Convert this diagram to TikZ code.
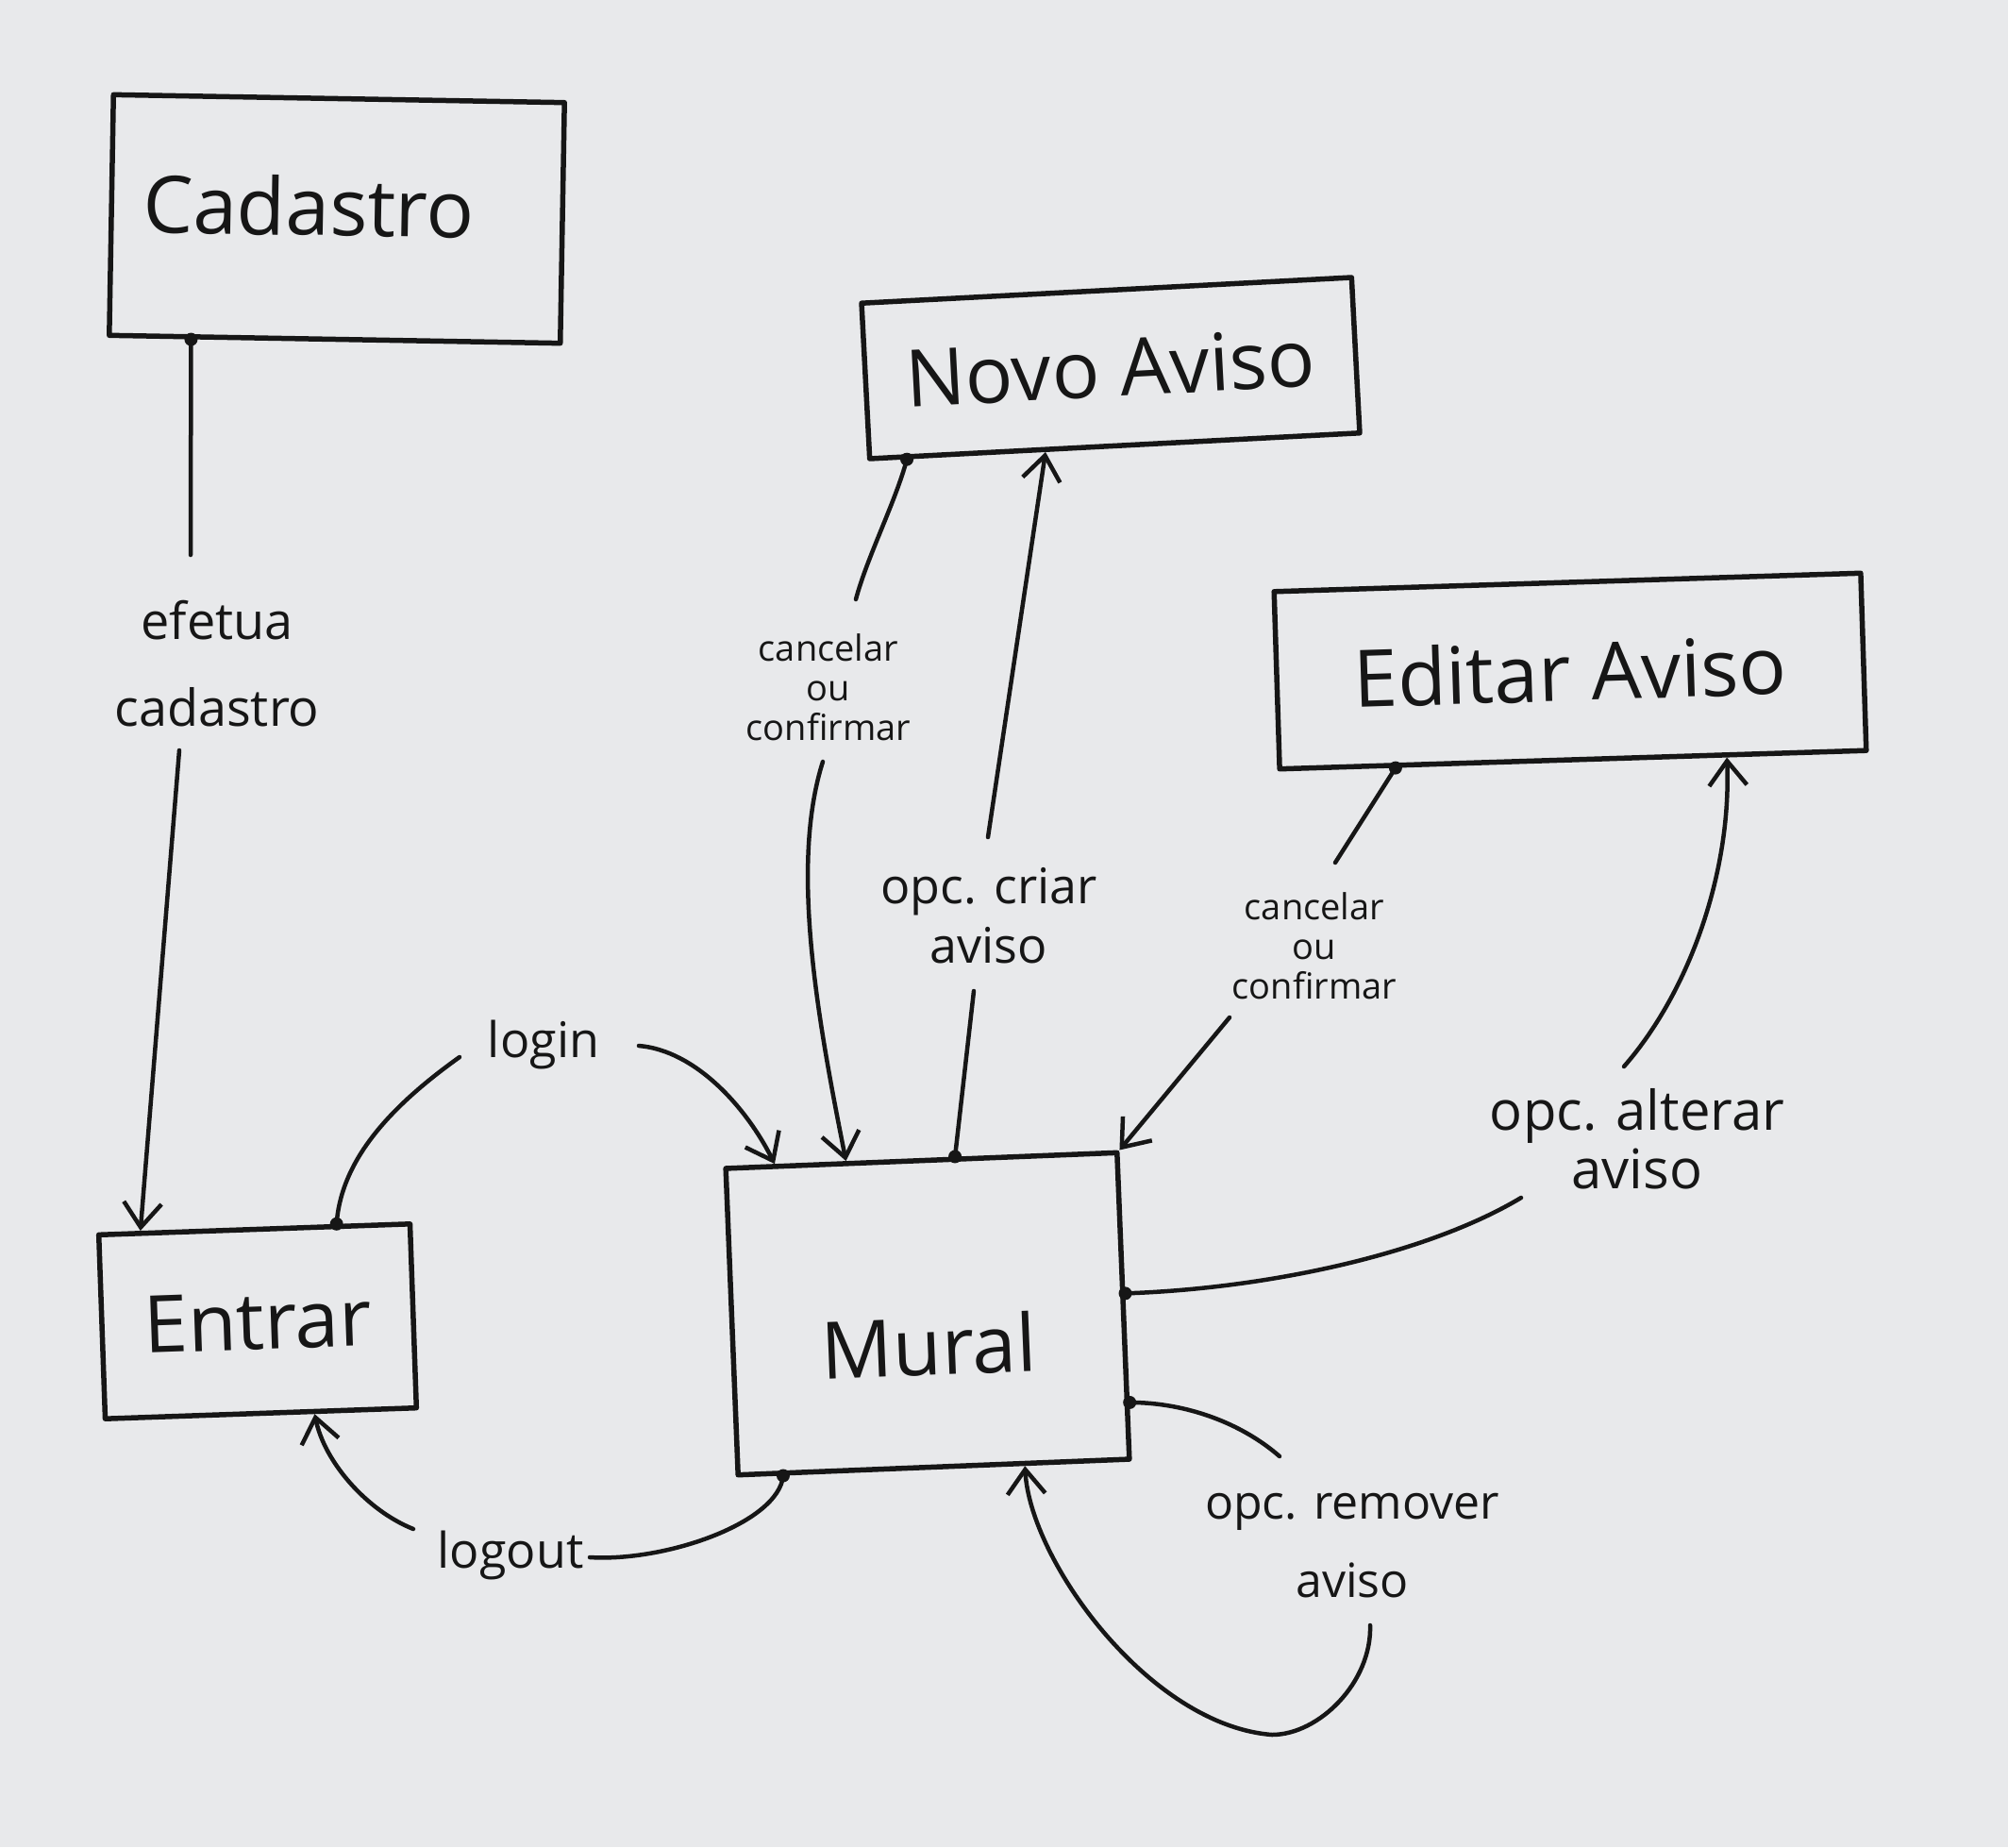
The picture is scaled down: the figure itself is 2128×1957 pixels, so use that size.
\documentclass[tikz,border=0pt]{standalone}
\usepackage{fontspec}
\setmainfont{Open Sans}
\usetikzlibrary{arrows.meta,calc}
\definecolor{paper}{HTML}{E8E9EB}
\definecolor{ink}{HTML}{161616}
\begin{document}
\begin{tikzpicture}[x=1pt,y=-1pt,
  box/.style={draw=ink, line width=5.5pt, line join=round, rectangle, inner sep=0pt,
              font=\fontsize{84}{90}\selectfont, text=ink},
  lbl/.style={text=ink, align=center, inner sep=4pt, font=\fontsize{52}{62}\selectfont},
  conn/.style={draw=ink, line width=4.5pt, line cap=round},
  arr/.style={conn, -{Straight Barb[length=26pt,width=40pt]}},
  dot/.style={fill=ink}
]
\fill[paper] (0,0) rectangle (2128,1957);
\useasboundingbox (0,0) rectangle (2128,1957);

% boxes
\node[box, minimum width=478pt, minimum height=255pt, rotate=-1, text depth=28pt]  (cad)    at (357,232)  {Cadastro\hspace*{60pt}};
\node[box, minimum width=520pt, minimum height=165pt, rotate=3]   (novo)   at (1177,390) {Novo Aviso};
\node[box, minimum width=622pt, minimum height=188pt, rotate=1.8] (edit)   at (1664,711) {Editar Aviso};
\node[box, minimum width=330pt, minimum height=195pt, rotate=2]   (entrar) at (273,1400) {Entrar};
\node[box, minimum width=415pt, minimum height=325pt, rotate=2.3, text height=130pt, text depth=0pt] (mural)  at (983,1392) {Mural};

% labels
\node[lbl, font=\fontsize{54}{92}\selectfont] (efetua) at (230,703) {efetua\\cadastro};
\node[lbl, font=\fontsize{38}{42}\selectfont] (canc1) at (878,728) {cancelar\\ou\\confirmar};
\node[lbl, font=\fontsize{52}{63}\selectfont] (criar) at (1048,970) {opc. criar\\aviso};
\node[lbl, font=\fontsize{38}{42}\selectfont] (canc2) at (1393,1002) {cancelar\\ou\\confirmar};
\node[lbl, font=\fontsize{58}{62}\selectfont] (alterar) at (1735,1207) {opc. alterar\\aviso};
\node[lbl] (login) at (576,1107) {login};
\node[lbl] (logout) at (541,1648) {logout};
\node[lbl, font=\fontsize{50}{83}\selectfont] (remover) at (1433,1638) {opc. remover\\aviso};

% points on the boxes
\coordinate (cadB)   at ($(cad.south west)!0.185!(cad.south east)$);
\coordinate (novoB1) at ($(novo.south west)!0.08!(novo.south east)$);
\coordinate (novoB2) at ($(novo.south west)!0.36!(novo.south east)$);
\coordinate (editB1) at ($(edit.south west)!0.2!(edit.south east)$);
\coordinate (editB2) at ($(edit.south west)!0.76!(edit.south east)$);
\coordinate (entT1)  at ($(entrar.north west)!0.14!(entrar.north east)$);
\coordinate (entT2)  at ($(entrar.north west)!0.76!(entrar.north east)$);
\coordinate (entB)   at ($(entrar.south west)!0.67!(entrar.south east)$);
\coordinate (murT1)  at ($(mural.north west)!0.13!(mural.north east)$);
\coordinate (murT2)  at ($(mural.north west)!0.31!(mural.north east)$);
\coordinate (murT3)  at ($(mural.north west)!0.585!(mural.north east)$);
\coordinate (murR1)  at ($(mural.north east)!0.46!(mural.south east)$);
\coordinate (murR2)  at ($(mural.north east)!0.81!(mural.south east)$);
\coordinate (murB1)  at ($(mural.south west)!0.12!(mural.south east)$);
\coordinate (murB2)  at ($(mural.south west)!0.73!(mural.south east)$);

% Cadastro -> Entrar
\draw[conn] (cadB) -- ($(efetua.center)+(-28,-115)$);
\draw[arr] ($(efetua.center)+(-40,92)$) -- (entT1);

% Novo Aviso -> Mural (cancelar ou confirmar)
\draw[conn] (novoB1) .. controls +(-12,45) and +(12,-45) .. ($(canc1.center)+(29,-93)$);
\draw[arr] ($(canc1.center)+(-6,79)$) .. controls +(-35,110) and +(-30,-150) .. (murT2);

% Mural -> Novo Aviso (opc. criar aviso)
\draw[conn] (murT3) -- ($(criar.center)+(-16,80)$);
\draw[arr] ($(criar.center)+(-1,-83)$) -- (novoB2);

% Editar Aviso -> Mural (cancelar ou confirmar)
\draw[conn] (editB1) -- ($(canc2.center)+(22,-88)$);
\draw[arr] ($(canc2.center)+(-90,76)$) -- (mural.north east);

% Mural -> Editar Aviso (opc. alterar aviso)
\draw[conn] (murR1) .. controls +(150,-5) and +(-100,60) .. ($(alterar.center)+(-123,62)$);
\draw[arr] ($(alterar.center)+(-14,-77)$) .. controls +(70,-80) and +(5,120) .. (editB2);

% Entrar -> Mural (login)
\draw[conn] (entT2) .. controls +(5,-70) and +(-70,50) .. ($(login.center)+(-89,13)$);
\draw[arr] ($(login.center)+(101,1)$) .. controls +(60,5) and +(-30,-60) .. (murT1);

% Mural -> Entrar (logout)
\draw[conn] (murB1) .. controls +(-5,50) and +(80,5) .. ($(logout.center)+(84,2)$);
\draw[arr] ($(logout.center)+(-103,-28)$) .. controls +(-50,-20) and +(10,50) .. (entB);

% Mural -> Mural (opc. remover aviso)
\draw[conn] (murR2) .. controls +(60,0) and +(-40,-35) .. ($(remover.center)+(-77,-95)$);
\draw[arr] ($(remover.center)+(19,84)$) .. controls +(2,60) and +(50,0) .. (1348,1838)
           .. controls +(-130,-10) and +(5,100) .. (murB2);

% connector dots
\foreach \p in {cadB,novoB1,editB1,entT2,murT3,murR1,murR2,murB1}
  \fill[dot] (\p) circle (7pt);
\end{tikzpicture}
\end{document}
